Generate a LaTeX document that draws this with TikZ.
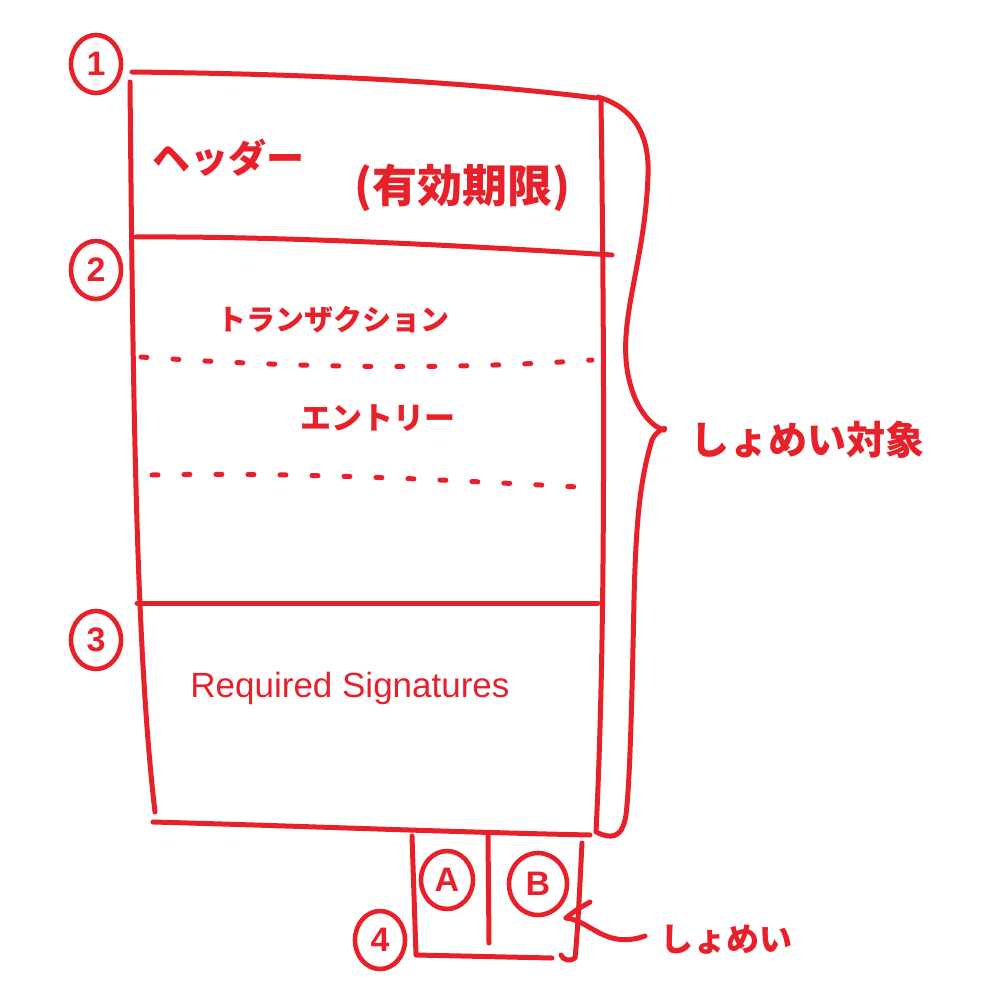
\documentclass[tikz,border=0pt]{standalone}
\usepackage{fontspec}
\usetikzlibrary{shapes.geometric}
\setmainfont{Liberation Sans}
\newfontfamily\jp{Noto Sans CJK JP}
\definecolor{pen}{HTML}{E8202A}
\begin{document}
\begin{tikzpicture}[x=1pt,y=-1pt,
  pen/.style={draw=pen,line width=5pt,line cap=round,line join=round},
  dotline/.style={draw=pen,line width=5pt,line cap=round,dash pattern=on 6pt off 26pt},
  lbl/.style={text=pen,inner sep=0pt},
  circ/.style={ellipse,draw=pen,line width=4.6pt,text=pen,minimum width=50pt,minimum height=58pt,inner sep=0pt,font=\bfseries\fontsize{34}{34}\selectfont}]
\useasboundingbox (0,0) rectangle (987,987);
% main frame corners
\coordinate (tl) at (132,72);
\coordinate (tr) at (596,98);
\coordinate (bl) at (153,822);
\coordinate (br) at (590,835);
\coordinate (tlv) at (130,82);
\coordinate (trv) at (601,100);
\coordinate (blv) at (155,812);
\coordinate (brv) at (596,832);
\draw[pen] (tl) .. controls (300,74) and (450,80) .. (tr);
\draw[pen] (tlv) .. controls (133,400) and (136,650) .. (blv);
\draw[pen] (trv) .. controls (605,400) and (605,650) .. (brv);
\draw[pen] (bl) .. controls (300,826) and (450,832) .. (br);
% separators
\coordinate (s2a) at (136,237);
\coordinate (s2b) at (612,255);
\coordinate (s3a) at (137,603);
\coordinate (s3b) at (598,603);
\draw[pen] (s2a) .. controls (300,236) and (500,248) .. (s2b);
\draw[pen] (s3a) -- (s3b);
% dotted lines
\coordinate (d1a) at (141,357);
\coordinate (d1b) at (592,360);
\coordinate (d2a) at (152,475);
\coordinate (d2b) at (596,488);
\draw[dotline] (d1a) .. controls (300,368) and (450,370) .. (d1b);
\draw[dotline] (d2a) .. controls (300,472) and (450,480) .. (d2b);
% texts
\node[lbl,font=\jp\bfseries\fontsize{38}{42}\selectfont] (hdr) at (228,158) {ヘッダー};
\node[lbl,font=\jp\bfseries\fontsize{45}{48}\selectfont] (exp) at (462,188) {(有効期限)};
\node[lbl,font=\jp\bfseries\fontsize{29}{32}\selectfont] (tx) at (333,320) {トランザクション};
\node[lbl,font=\jp\bfseries\fontsize{31}{34}\selectfont] (ent) at (378,418) {エントリー};
\node[lbl,font=\fontsize{35}{38}\selectfont] (req) at (350,688) {Required Signatures};
% circled numbers
\node[circ] (n1) at (96,64) {1};
\node[circ] (n2) at (96,270) {2};
\node[circ] (n3) at (96,640) {3};
\node[circ] (n4) at (380,940) {4};
% brace
\coordinate (bt) at (598,97);
\coordinate (bm) at (664,430);
\coordinate (bb) at (598,833);
\draw[pen] (bt) .. controls (625,105) and (650,125) .. (648,175)
  .. controls (645,270) and (612,330) .. (632,390)
  .. controls (640,415) and (655,428) .. (bm);
\draw[pen] (bm) .. controls (668,425) and (655,432) .. (652,440)
  .. controls (640,480) and (636,520) .. (634,600)
  .. controls (632,700) and (630,780) .. (626,815)
  .. controls (622,840) and (610,838) .. (bb);
\node[lbl,font=\jp\bfseries\fontsize{39}{42}\selectfont,anchor=west] (tgt) at (690,440) {しょめい対象};
% signature box
\coordinate (sbtl) at (412,836);
\coordinate (sbbl) at (416,955);
\coordinate (sbbr) at (552,958);
\coordinate (sbmt) at (488,836);
\coordinate (sbmb) at (489,943);
\coordinate (sbrt) at (582,843);
\coordinate (sbrb) at (575,958);
\draw[pen] (sbtl) -- (sbbl) -- (sbbr);
\draw[pen] (sbmt) -- (sbmb);
\draw[pen] (sbrt) .. controls (580,880) and (578,930) .. (sbrb) .. controls (570,962) and (563,960) .. (561,955);
\node[circ,minimum width=52pt,minimum height=58pt] (ca) at (447,880) {A};
\node[circ,minimum width=58pt,minimum height=62pt] (cb) at (538,884) {B};
% leader to しょめい
\coordinate (ls) at (566,918);
\coordinate (le) at (645,936);
\draw[pen] (ls) .. controls (575,910) and (585,905) .. (590,902);
\draw[pen] (ls) .. controls (590,920) and (605,950) .. (le);
\node[lbl,font=\jp\bfseries\fontsize{33}{36}\selectfont,anchor=west] (sig) at (660,940) {しょめい};
\end{tikzpicture}
\end{document}
